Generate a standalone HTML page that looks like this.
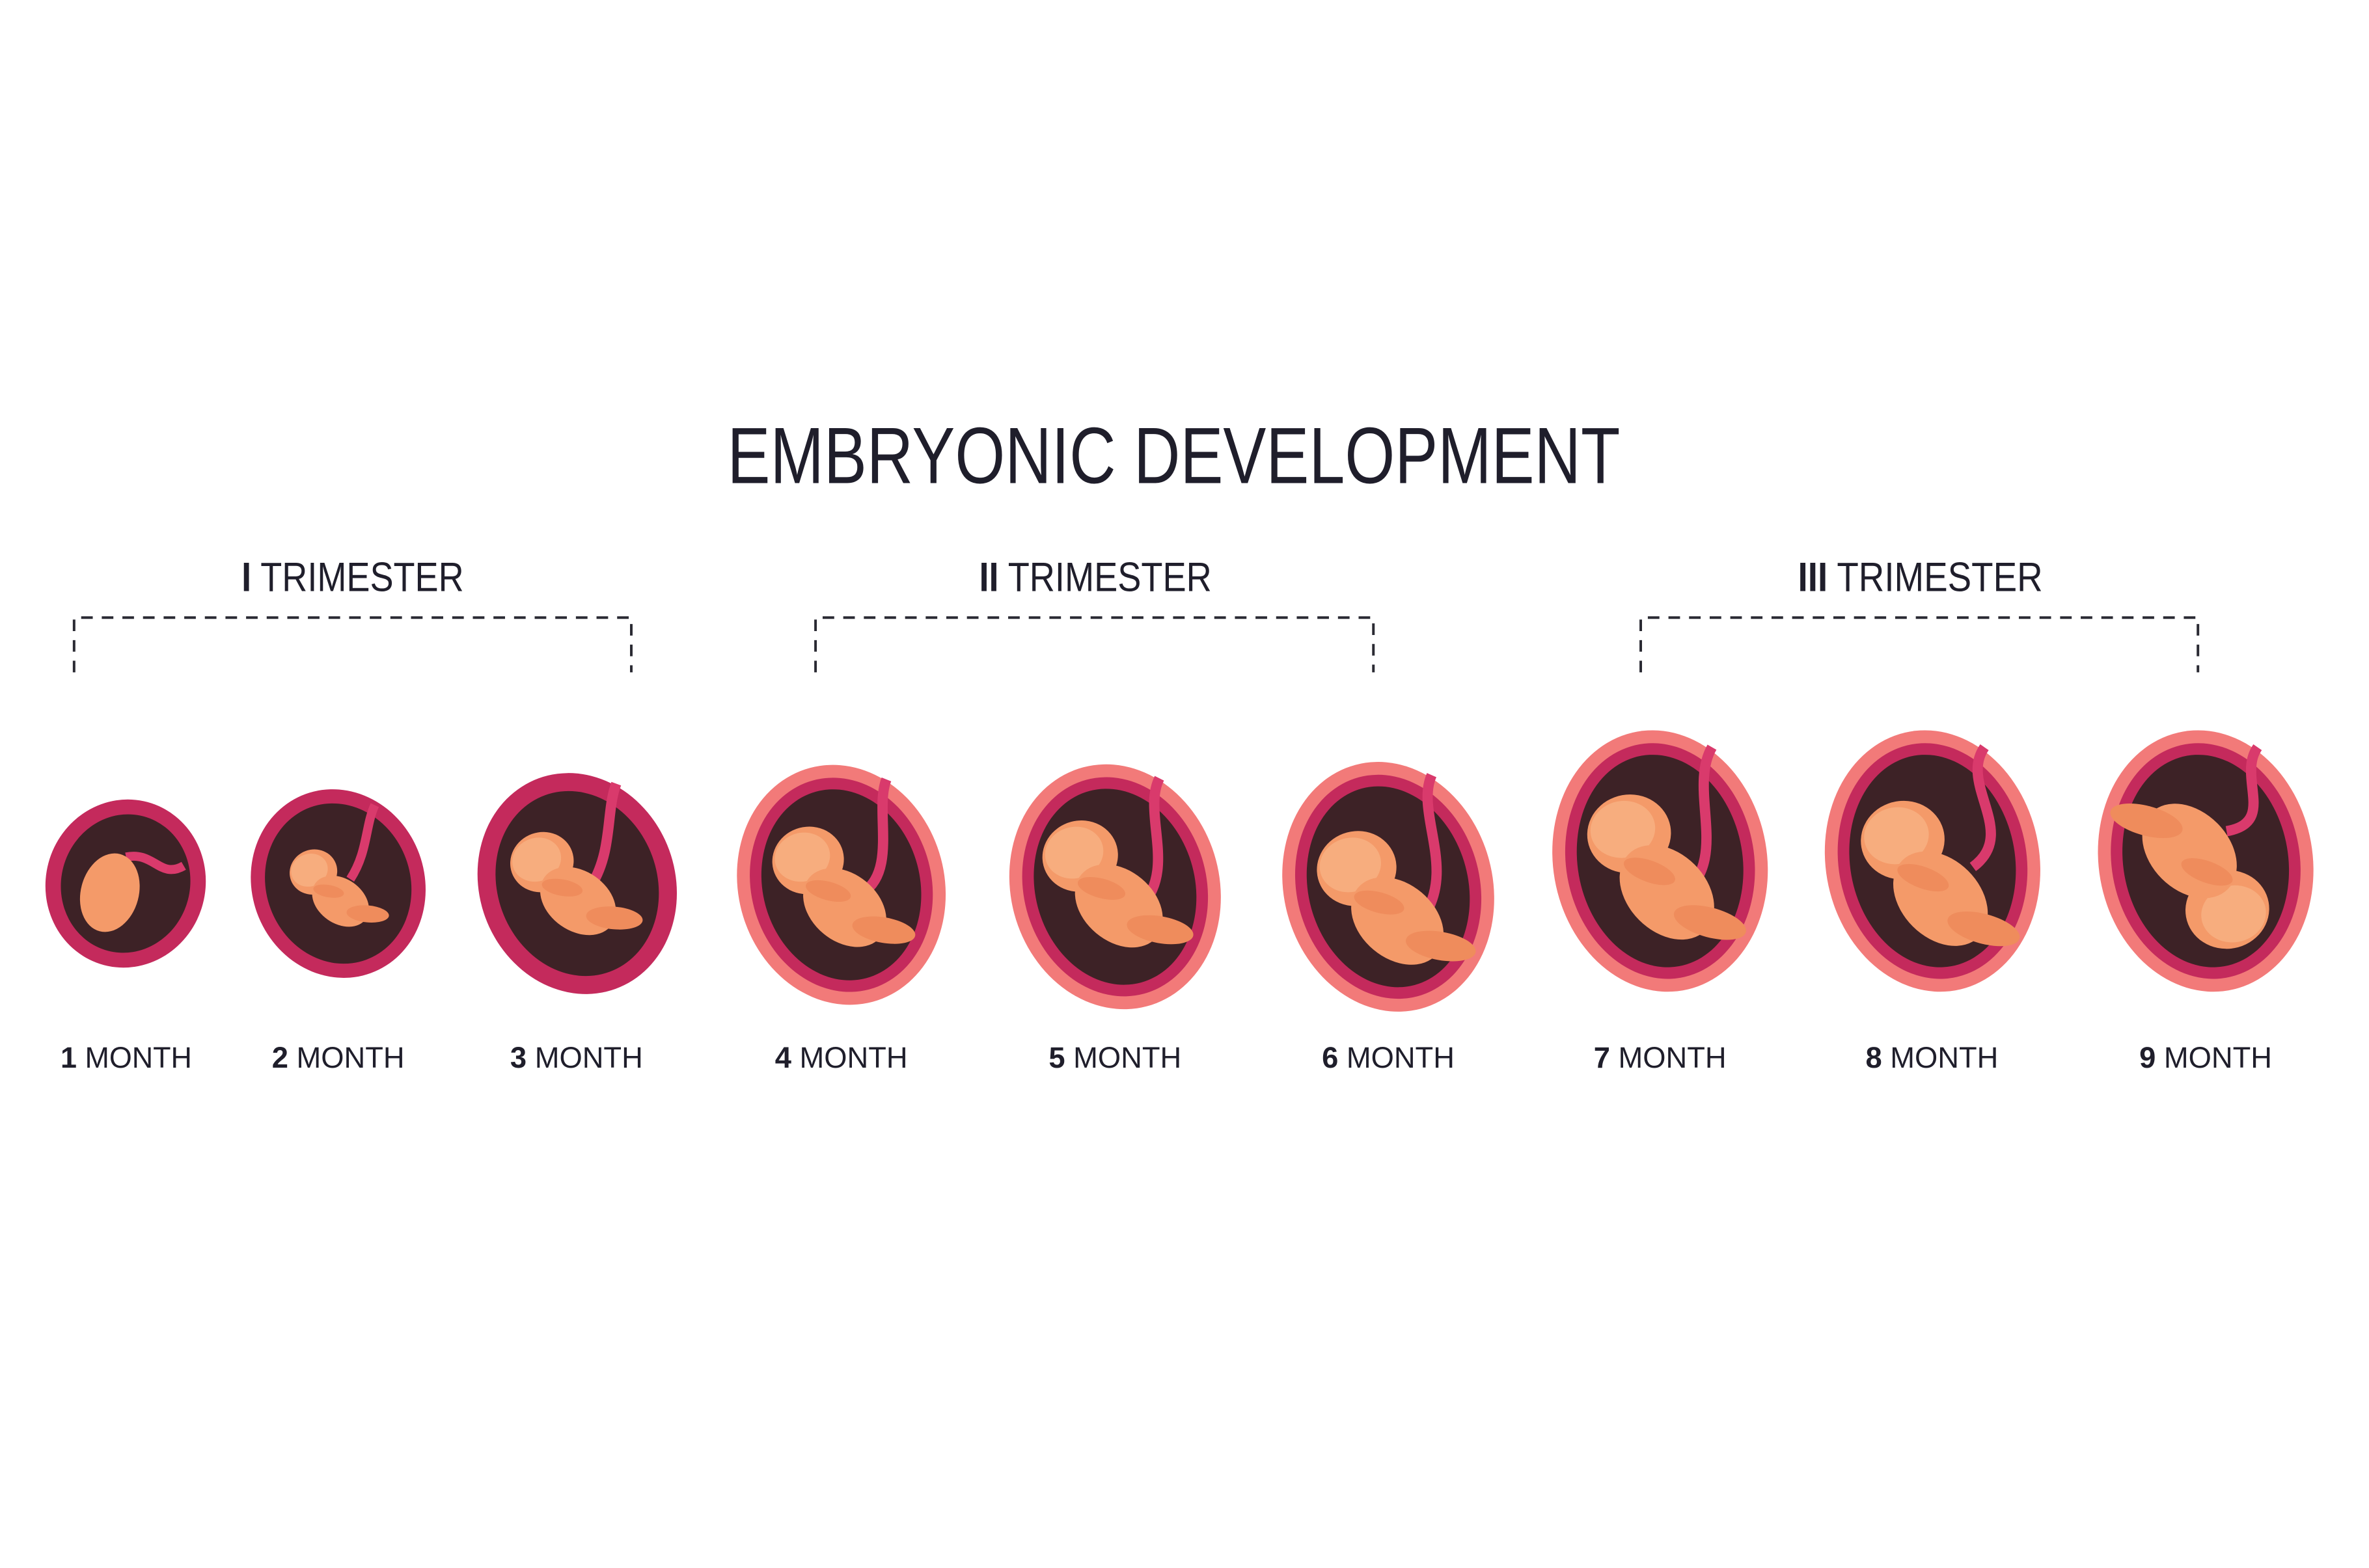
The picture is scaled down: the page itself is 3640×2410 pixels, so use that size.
<!DOCTYPE html>
<html><head><meta charset="utf-8"><style>
html,body{margin:0;padding:0;background:#fff;}
svg{display:block;}
text{font-family:"Liberation Sans",sans-serif;fill:#1f1e2b;}
</style></head><body>
<svg width="3640" height="2410" viewBox="0 0 3640 2410" xmlns="http://www.w3.org/2000/svg">
<defs>
<g id="fetus">
  <ellipse cx="0" cy="0" rx="62" ry="58" fill="#f49a69"/>
  <ellipse cx="-8" cy="-8" rx="48" ry="42" fill="#f7ad7e"/>
  <ellipse cx="40" cy="95" rx="58" ry="80" fill="#f49a69" transform="rotate(-35 40 95)"/>
  <ellipse cx="95" cy="150" rx="55" ry="22" fill="#ef8c5c" transform="rotate(25 95 150)"/>
  <ellipse cx="20" cy="60" rx="40" ry="16" fill="#ef8c5c" transform="rotate(30 20 60)"/>
</g>
</defs>
<rect width="3640" height="2410" fill="#fff"/>
<g transform="scale(0.9898)">
<text x="1822" y="750" font-size="124" text-anchor="middle" textLength="1386" lengthAdjust="spacingAndGlyphs">EMBRYONIC DEVELOPMENT</text>

<text x="375" y="918" font-size="64" textLength="345" lengthAdjust="spacingAndGlyphs"><tspan font-weight="bold">I</tspan> TRIMESTER</text>
<text x="1520" y="918" font-size="64" textLength="361" lengthAdjust="spacingAndGlyphs"><tspan font-weight="bold">II</tspan> TRIMESTER</text>
<text x="2791" y="918" font-size="64" textLength="380" lengthAdjust="spacingAndGlyphs"><tspan font-weight="bold">III</tspan> TRIMESTER</text>

<g fill="none" stroke="#2a2a33" stroke-width="4" stroke-dasharray="18 14">
<path d="M115 1044 V959 H980 V1044"/>
<path d="M1266 1044 V959 H2132 V1044"/>
<path d="M2547 1044 V959 H3412 V1044"/>
</g>

<g transform="translate(195 1372) rotate(15)">
<ellipse rx="124" ry="131" fill="#c42a5c"/>
<ellipse rx="100" ry="108" fill="#3d2226"/>
<path d="M-10 -40 C30 -60 50 -20 80 -50" stroke="#d93a6c" stroke-width="14" fill="none"/>
<ellipse cx="-20" cy="20" rx="45" ry="62" fill="#f49a69"/>
</g>
<g transform="translate(525 1372) rotate(-20)">
<ellipse rx="134" ry="148" fill="#c42a5c"/>
<ellipse rx="112" ry="126" fill="#3d2226"/>
<path d="M20 0 C60 -30 70 -70 95 -95" stroke="#d93a6c" stroke-width="14" fill="none"/>
<g transform="translate(-30 -30) scale(0.6)"><use href="#fetus"/></g>
</g>
<g transform="translate(896 1372) rotate(-20)">
<ellipse rx="152" ry="174" fill="#c42a5c"/>
<ellipse rx="124" ry="146" fill="#3d2226"/>
<path d="M20 10 C70 -30 80 -90 110 -125" stroke="#d93a6c" stroke-width="16" fill="none"/>
<g transform="translate(-40 -50) scale(0.8)"><use href="#fetus"/></g>
</g>
<g transform="translate(1306 1374) rotate(-15)">
<ellipse rx="160" ry="188" fill="#f27a79"/>
<ellipse rx="140" ry="168" fill="#c42a5c"/>
<ellipse rx="122" ry="150" fill="#3d2226"/>
<path d="M30 20 C90 0 80 -100 110 -140" stroke="#d93a6c" stroke-width="16" fill="none"/>
<g transform="translate(-40 -50) scale(0.9)"><use href="#fetus"/></g>
</g>
<g transform="translate(1731 1377) rotate(-15)">
<ellipse rx="162" ry="192" fill="#f27a79"/>
<ellipse rx="142" ry="172" fill="#c42a5c"/>
<ellipse rx="124" ry="154" fill="#3d2226"/>
<path d="M30 40 C100 0 70 -100 110 -145" stroke="#d93a6c" stroke-width="16" fill="none"/>
<g transform="translate(-40 -60) scale(0.95)"><use href="#fetus"/></g>
</g>
<g transform="translate(2155 1377) rotate(-15)">
<ellipse rx="162" ry="196" fill="#f27a79"/>
<ellipse rx="142" ry="176" fill="#c42a5c"/>
<ellipse rx="124" ry="158" fill="#3d2226"/>
<path d="M40 60 C110 0 70 -100 110 -150" stroke="#d93a6c" stroke-width="16" fill="none"/>
<g transform="translate(-40 -40) scale(1)"><use href="#fetus"/></g>
</g>
<g transform="translate(2577 1337) rotate(-10)">
<ellipse rx="166" ry="204" fill="#f27a79"/>
<ellipse rx="146" ry="184" fill="#c42a5c"/>
<ellipse rx="128" ry="166" fill="#3d2226"/>
<path d="M20 60 C110 20 60 -100 110 -160" stroke="#d93a6c" stroke-width="16" fill="none"/>
<g transform="translate(-40 -50) scale(1.05)"><use href="#fetus"/></g>
</g>
<g transform="translate(3000 1337) rotate(-10)">
<ellipse rx="166" ry="204" fill="#f27a79"/>
<ellipse rx="146" ry="184" fill="#c42a5c"/>
<ellipse rx="128" ry="166" fill="#3d2226"/>
<path d="M60 20 C140 -20 60 -110 110 -160" stroke="#d93a6c" stroke-width="16" fill="none"/>
<g transform="translate(-40 -40) scale(1.05)"><use href="#fetus"/></g>
</g>
<g transform="translate(3424 1337) rotate(-10)">
<ellipse rx="166" ry="204" fill="#f27a79"/>
<ellipse rx="146" ry="184" fill="#c42a5c"/>
<ellipse rx="128" ry="166" fill="#3d2226"/>
<path d="M40 -40 C120 -40 70 -120 110 -160" stroke="#d93a6c" stroke-width="16" fill="none"/>
<g transform="translate(20 80) rotate(180) scale(1.05)"><use href="#fetus"/></g>
</g>

<g font-size="46">
<text x="94" y="1658" textLength="204" lengthAdjust="spacingAndGlyphs"><tspan font-weight="bold">1</tspan> MONTH</text>
<text x="422" y="1658" textLength="206" lengthAdjust="spacingAndGlyphs"><tspan font-weight="bold">2</tspan> MONTH</text>
<text x="792" y="1658" textLength="206" lengthAdjust="spacingAndGlyphs"><tspan font-weight="bold">3</tspan> MONTH</text>
<text x="1203" y="1658" textLength="206" lengthAdjust="spacingAndGlyphs"><tspan font-weight="bold">4</tspan> MONTH</text>
<text x="1628" y="1658" textLength="206" lengthAdjust="spacingAndGlyphs"><tspan font-weight="bold">5</tspan> MONTH</text>
<text x="2052" y="1658" textLength="206" lengthAdjust="spacingAndGlyphs"><tspan font-weight="bold">6</tspan> MONTH</text>
<text x="2474" y="1658" textLength="206" lengthAdjust="spacingAndGlyphs"><tspan font-weight="bold">7</tspan> MONTH</text>
<text x="2896" y="1658" textLength="206" lengthAdjust="spacingAndGlyphs"><tspan font-weight="bold">8</tspan> MONTH</text>
<text x="3321" y="1658" textLength="206" lengthAdjust="spacingAndGlyphs"><tspan font-weight="bold">9</tspan> MONTH</text>
</g>
</g>
</svg>
</body></html>
